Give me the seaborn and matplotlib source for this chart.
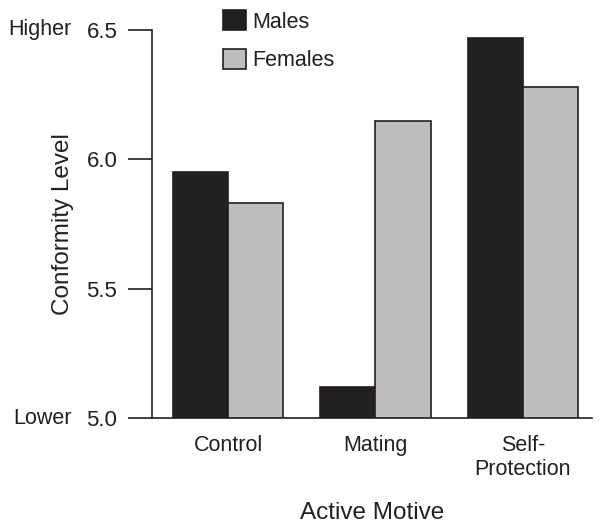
import pandas as pd
import matplotlib.pyplot as plt
import seaborn as sns

motives = ["Control", "Mating", "Self-\nProtection"]
males = [5.95, 5.12, 6.47]
females = [5.83, 6.15, 6.28]
y_ticks = [5.0, 5.5, 6.0, 6.5]

data = pd.DataFrame({
    "Motive": motives * 2,
    "Sex": ["Males"] * 3 + ["Females"] * 3,
    "Level": males + females,
})

sns.set_style("white")
plt.rcParams['font.family'] = ['Liberation Sans', 'DejaVu Sans']
ink = "#231f20"

fig = plt.figure(figsize=(6.01, 5.26), dpi=100)
ax = fig.add_axes([0.253, 0.205, 0.732, 0.738])

sns.barplot(data=data, x="Motive", y="Level", hue="Sex", ax=ax,
            palette={"Males": ink, "Females": "#bcbec0"},
            edgecolor=ink, linewidth=1.2, width=0.75, gap=0)

ax.set_ylim(5.0, 6.5)
ax.set_xlim(-0.515, 2.468)
ax.set_yticks(y_ticks)
ax.set_yticklabels([f"{t:.1f}" for t in y_ticks], fontsize=16)
ax.tick_params(axis="y", direction="out", length=17, width=1.2, color=ink,
               left=True, pad=8, labelcolor=ink)
ax.tick_params(axis="x", length=0, pad=12, labelsize=15.5, labelcolor=ink)

for side in ["top", "right"]:
    ax.spines[side].set_visible(False)
for side in ["left", "bottom"]:
    ax.spines[side].set_color(ink)
    ax.spines[side].set_linewidth(1.2)

ax.set_xlabel("Active Motive", fontsize=17.5, color=ink, labelpad=16)
ax.set_ylabel("Conformity Level", fontsize=17.5, color=ink, labelpad=9)

trans = ax.get_yaxis_transform()
ax.text(-0.182, 6.5, "Higher", transform=trans, ha="right", va="center",
        fontsize=15.5, color=ink)
ax.text(-0.182, 5.0, "Lower", transform=trans, ha="right", va="center",
        fontsize=15.5, color=ink)

leg = ax.legend(loc="upper left", bbox_to_anchor=(0.357, 0.997),
                bbox_transform=fig.transFigure, frameon=False, fontsize=15.5,
                handlelength=1.05, handleheight=1.05, handletextpad=0.3,
                labelspacing=0.75, borderaxespad=0)
for t in leg.get_texts():
    t.set_color(ink)

fig.savefig("out.png", dpi=100)
